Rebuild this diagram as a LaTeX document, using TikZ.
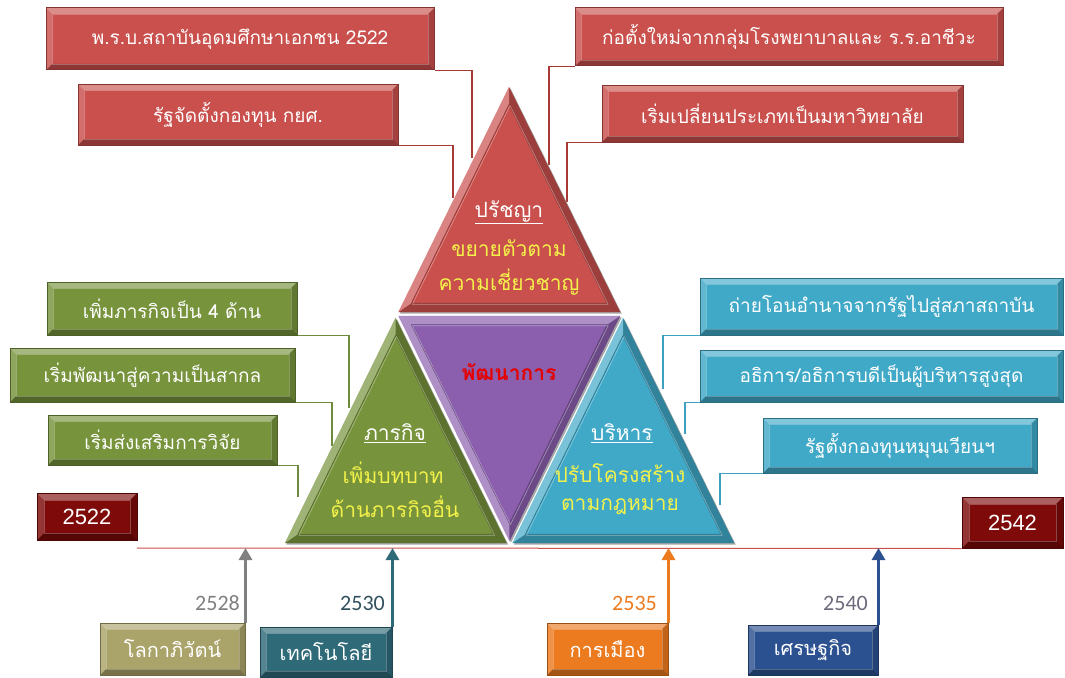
\documentclass[tikz,border=0pt]{standalone}
\usepackage{fontspec}
\newfontfamily\thai[Script=Thai]{Loma}
\newfontfamily\numf{Carlito}
\newfontfamily\numb{Liberation Sans}
\usetikzlibrary{arrows.meta,calc}

\definecolor{cRed}{HTML}{C9504C}
\definecolor{cGreen}{HTML}{77933C}
\definecolor{cBlue}{HTML}{40A9C8}
\definecolor{cPurple}{HTML}{8B5FAE}
\definecolor{cDark}{HTML}{7E0A0A}
\definecolor{cKhaki}{HTML}{ABA46A}
\definecolor{cTeal}{HTML}{2F6A79}
\definecolor{cOrange}{HTML}{EC7A1E}
\definecolor{cNavy}{HTML}{2C5190}
\definecolor{cYellow}{HTML}{F4F24A}
\definecolor{cRedLn}{HTML}{A83A36}
\definecolor{cGreenLn}{HTML}{6E8B3D}
\definecolor{cBlueLn}{HTML}{3CA0BE}
\definecolor{cYearGray}{HTML}{7F7F7F}
\definecolor{cYearTeal}{HTML}{31505E}
\definecolor{cYearBlue}{HTML}{6B6B7B}

\tikzset{
  bevel/.style={path picture={
    \path (path picture bounding box.north west) coordinate (pNW)
          (path picture bounding box.north east) coordinate (pNE)
          (path picture bounding box.south west) coordinate (pSW)
          (path picture bounding box.south east) coordinate (pSE);
    \fill[white,opacity=.35] (pNW) -- (pNE) -- ([shift={(-#1,-#1)}]pNE) -- ([shift={(#1,-#1)}]pNW) -- cycle;
    \fill[black,opacity=.30] (pSW) -- (pSE) -- ([shift={(-#1,#1)}]pSE) -- ([shift={(#1,#1)}]pSW) -- cycle;
    \fill[white,opacity=.18] (pNW) -- (pSW) -- ([shift={(#1,#1)}]pSW) -- ([shift={(#1,-#1)}]pNW) -- cycle;
    \fill[black,opacity=.18] (pNE) -- (pSE) -- ([shift={(-#1,#1)}]pSE) -- ([shift={(-#1,-#1)}]pNE) -- cycle;
    \draw[white,opacity=.25,line width=.6pt] ([shift={(#1,-#1)}]pNW) rectangle ([shift={(-#1,#1)}]pSE);
  }},
  bevel/.default=6pt,
  box/.style={bevel, inner sep=0pt, text=white, line width=1pt,
    font=\thai\fontsize{19}{22}\selectfont},
  redbox/.style={box, fill=cRed, draw=cRed!65!black},
  greenbox/.style={box, fill=cGreen, draw=cGreen!65!black},
  bluebox/.style={box, fill=cBlue, draw=cBlue!65!black},
  yearbox/.style={box, bevel=7pt, fill=cDark, draw=cDark!60!black, font=\numb\fontsize{22}{24}\selectfont},
  botbox/.style={box, font=\thai\fontsize{20}{22}\selectfont},
  redln/.style={draw=cRedLn, line width=1.4pt},
  greenln/.style={draw=cGreenLn, line width=1.4pt},
  blueln/.style={draw=cBlueLn, line width=1.4pt},
  timeline/.style={draw=cRed, line width=1pt},
  uparrow/.style={line width=3pt, -{Triangle[width=13pt,length=12pt]}},
  yearlbl/.style={anchor=east, inner sep=0pt, font=\numf\fontsize{22}{24}\selectfont},
  ttl/.style={inner sep=0pt, text=white, font=\thai\fontsize{21}{23}\selectfont},
  sub/.style={inner sep=0pt, text=cYellow, font=\thai\fontsize{21}{23}\selectfont},
  lt/.style={white, opacity=.30},
  dk/.style={black, opacity=.22},
}

\newcommand\bevtri[7]{%
  \coordinate (cc) at (barycentric cs:#1=1,#2=1,#3=1);
  \coordinate (oa) at ($(cc)!0.975!(#1)$);
  \coordinate (ob) at ($(cc)!0.975!(#2)$);
  \coordinate (oc) at ($(cc)!0.975!(#3)$);
  \coordinate (ia) at ($(cc)!0.86!(#1)$);
  \coordinate (ib) at ($(cc)!0.86!(#2)$);
  \coordinate (ic) at ($(cc)!0.86!(#3)$);
  \fill[black!35] ([shift={(1.5pt,-1.5pt)}]oa) -- ([shift={(1.5pt,-1.5pt)}]ob) -- ([shift={(1.5pt,-1.5pt)}]oc) -- cycle;
  \fill[#4] (oa) -- (ob) -- (oc) -- cycle;
  \fill[#5] (oa) -- (ob) -- (ib) -- (ia) -- cycle;
  \fill[#6] (ob) -- (oc) -- (ic) -- (ib) -- cycle;
  \fill[#7] (oc) -- (oa) -- (ia) -- (ic) -- cycle;
  \draw[#4!70!black, line width=.7pt] (ia) -- (ib) -- (ic) -- cycle;
  \draw[white, opacity=.4, line width=.6pt] ([shift={(1pt,-1pt)}]ia) -- ([shift={(1pt,-1pt)}]ib) -- ([shift={(1pt,-1pt)}]ic) -- cycle;
}

\begin{document}
\begin{tikzpicture}[x=1pt,y=-1pt]
\useasboundingbox (0,0) rectangle (1065,677);

% main triangle geometry
\coordinate (A) at (509,83);
\coordinate (L) at (282,545);
\coordinate (R) at (737,545);
\coordinate (ML) at (395.5,314);
\coordinate (MR) at (623,314);
\coordinate (MB) at (509.5,545);

% top red boxes
\node[redbox, minimum width=388pt, minimum height=62pt] (r1) at (240,39) {พ.ร.บ.สถาบันอุดมศึกษาเอกชน 2522};
\node[redbox, minimum width=320pt, minimum height=61pt] (r2) at (238,114.5) {รัฐจัดตั้งกองทุน กยศ.};
\node[redbox, minimum width=428pt, minimum height=58pt] (r3) at (789,37) {ก่อตั้งใหม่จากกลุ่มโรงพยาบาลและ ร.ร.อาชีวะ};
\node[redbox, minimum width=361pt, minimum height=57pt] (r4) at (782.5,113.5) {เริ่มเปลี่ยนประเภทเป็นมหาวิทยาลัย};

% green boxes
\node[greenbox, minimum width=250pt, minimum height=53pt] (g1) at (172,308.5) {เพิ่มภารกิจเป็น 4 ด้าน};
\node[greenbox, minimum width=285pt, minimum height=54pt] (g2) at (152.5,375) {เริ่มพัฒนาสู่ความเป็นสากล};
\node[greenbox, minimum width=229pt, minimum height=50pt] (g3) at (162.5,440) {เริ่มส่งเสริมการวิจัย};

% blue boxes
\node[bluebox, minimum width=363pt, minimum height=57pt] (b1) at (881.5,306.5) {ถ่ายโอนอำนาจจากรัฐไปสู่สภาสถาบัน};
\node[bluebox, minimum width=363pt, minimum height=52pt] (b2) at (881.5,376) {อธิการ/อธิการบดีเป็นผู้บริหารสูงสุด};
\node[bluebox, minimum width=274pt, minimum height=55pt] (b3) at (900,445.5) {รัฐตั้งกองทุนหมุนเวียนฯ};

% connector end points on the triangle
\coordinate (e1) at (472,158);
\coordinate (e2) at (453,198);
\coordinate (e3) at (549,165);
\coordinate (e4) at (567,202);
\coordinate (f1) at (349,408);
\coordinate (f2) at (332,446);
\coordinate (f3) at (298,497);
\coordinate (h1) at (663,389);
\coordinate (h2) at (685,434);
\coordinate (h3) at (720,505);

\draw[redln] (r1.south east) -| (e1);
\draw[redln] (r2.south east) -| (e2);
\draw[redln] (r3.south west) -| (e3);
\draw[redln] (r4.south west) -| (e4);
\draw[greenln] (g1.south east) -| (f1);
\draw[greenln] (g2.south east) -| (f2);
\draw[greenln] (g3.south east) -| (f3);
\draw[blueln] (b1.south west) -| (h1);
\draw[blueln] (b2.south west) -| (h2);
\draw[blueln] (b3.south west) -| (h3);

% triangles
\bevtri{A}{MR}{ML}{cRed}{dk}{dk}{lt}
\bevtri{ML}{MB}{L}{cGreen}{dk}{dk}{lt}
\bevtri{MR}{R}{MB}{cBlue}{dk}{dk}{lt}
\bevtri{ML}{MR}{MB}{cPurple}{lt}{dk}{lt}

% triangle texts
\node[ttl] (tP) at (509,212) {\underline{ปรัชญา}};
\node[sub] (tP1) at (509,248) {ขยายตัวตาม};
\node[sub] (tP2) at (509,282) {ความเชี่ยวชาญ};
\node[inner sep=0pt, text=red!90!black, font=\thai\bfseries\fontsize{21}{23}\selectfont] (tD) at (509,372) {พัฒนาการ};
\node[ttl] (tM) at (395,433) {\underline{ภารกิจ}};
\node[sub] (tM1) at (393,473) {เพิ่มบทบาท};
\node[sub] (tM2) at (395,507) {ด้านภารกิจอื่น};
\node[ttl] (tA) at (622,433) {\underline{บริหาร}};
\node[sub] (tA1) at (620,473) {ปรับโครงสร้าง};
\node[sub] (tA2) at (620,507) {ตามกฎหมาย};

% year boxes and time line
\node[yearbox, minimum width=100pt, minimum height=47pt] (y1) at (87,516.5) {2522};
\node[yearbox, minimum width=101pt, minimum height=51pt] (y2) at (1012.5,522.5) {2542};
\coordinate (bl) at (137,548);
\draw[timeline] (bl) -- (y2.south west);

% bottom factor boxes
\node[botbox, fill=cKhaki, draw=cKhaki!65!black, minimum width=145pt, minimum height=52pt] (k1) at (172.5,649) {โลกาภิวัตน์};
\node[botbox, fill=cTeal, draw=cTeal!65!black, minimum width=132pt, minimum height=50pt] (k2) at (326,652) {เทคโนโลยี};
\node[botbox, fill=cOrange, draw=cOrange!65!black, minimum width=121pt, minimum height=52pt] (k3) at (607.5,649) {การเมือง};
\node[botbox, fill=cNavy, draw=cNavy!65!black, minimum width=130pt, minimum height=50pt] (k4) at (813,650) {เศรษฐกิจ};

\draw[uparrow, draw=gray, fill=gray] (k1.north east) -- (k1.north east |- bl);
\draw[uparrow, draw=cTeal, fill=cTeal] (k2.north east) -- (k2.north east |- bl);
\draw[uparrow, draw=cOrange, fill=cOrange] (k3.north east) -- (k3.north east |- bl);
\draw[uparrow, draw=cNavy, fill=cNavy] (k4.north east) -- (k4.north east |- bl);

\node[yearlbl, text=cYearGray] (l1) at (240,603) {2528};
\node[yearlbl, text=cYearTeal] (l2) at (385,603) {2530};
\node[yearlbl, text=cOrange] (l3) at (657,603) {2535};
\node[yearlbl, text=cYearBlue] (l4) at (868,603) {2540};
\end{tikzpicture}
\end{document}
